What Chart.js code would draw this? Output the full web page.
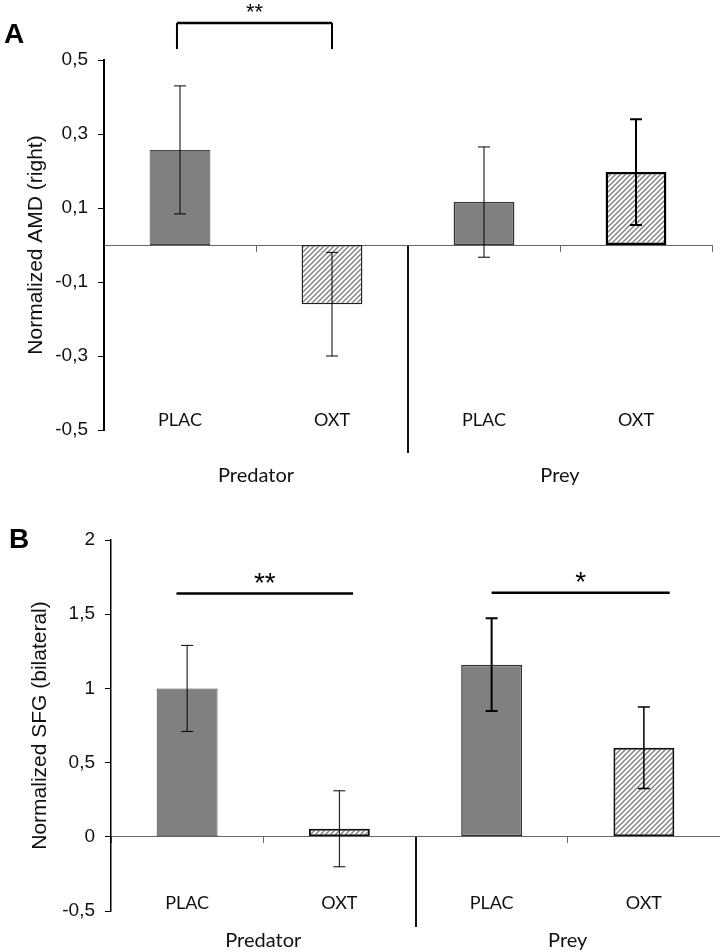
<!DOCTYPE html>
<html>
<head>
<meta charset="utf-8">
<script src="https://cdn.jsdelivr.net/npm/chart.js@4"></script>
<style>
  body { margin: 0; background: #fff; }
  .panel { position: absolute; left: 0; }
  #panelA { top: 0; }
  #panelB { top: 480px; }
</style>
</head>
<body>
<div class="panel" id="panelB"><canvas id="chartB" width="720" height="472"></canvas></div>
<div class="panel" id="panelA"><canvas id="chartA" width="720" height="500"></canvas></div>
<script>
// data
const conditions = ['PLAC', 'OXT', 'PLAC', 'OXT'];
const groups = ['Predator', 'Prey'];

const amdMeans = [0.257, -0.16, 0.116, 0.197];
const amdErrors = [0.173, 0.14, 0.149, 0.143];
const amdTicks = [-0.5, -0.3, -0.1, 0.1, 0.3, 0.5];

const sfgMeans = [1.0, 0.054, 1.16, 0.60];
const sfgErrors = [0.29, 0.256, 0.313, 0.275];
const sfgTicks = [-0.5, 0, 0.5, 1, 1.5, 2];

// significance marks: category span, height in data units
const amdSig = [{ from: -0.02, to: 1, y: 0.6, leg: 0.53, text: '**', textY: 0.645, size: 22 }];
const sfgSig = [
  { from: -0.07, to: 1.09, y: 1.64, text: '**', textY: 1.76, size: 28 },
  { from: 2.0, to: 3.17, y: 1.645, text: '*', textY: 1.765, size: 28 }
];

const sans = '"Liberation Sans", Arial, sans-serif';

function hatchPattern() {
  const c = document.createElement('canvas');
  c.width = 5; c.height = 5;
  const g = c.getContext('2d');
  g.fillStyle = '#fff';
  g.fillRect(0, 0, 5, 5);
  g.strokeStyle = '#858585';
  g.lineWidth = 1.5;
  g.beginPath();
  g.moveTo(-1, 6); g.lineTo(6, -1);
  g.moveTo(-1, 1); g.lineTo(1, -1);
  g.moveTo(4, 6); g.lineTo(6, 4);
  g.stroke();
  return g.createPattern(c, 'repeat');
}
const hatch = hatchPattern();
const grey = '#808080';

function overlay(cfg) {
  return {
    id: 'overlay',
    afterDatasetsDraw(chart) {
      const { ctx, scales: { y } } = chart;
      const meta = chart.getDatasetMeta(0);
      ctx.save();
      ctx.strokeStyle = '#000';
      meta.data.forEach((bar, i) => {
        const v = cfg.means[i], e = cfg.errors[i];
        const t = y.getPixelForValue(v + e), b = y.getPixelForValue(v - e);
        ctx.lineWidth = cfg.errWidth[i];
        ctx.beginPath();
        ctx.moveTo(bar.x, t); ctx.lineTo(bar.x, b);
        ctx.moveTo(bar.x - 6, t); ctx.lineTo(bar.x + 6, t);
        ctx.moveTo(bar.x - 6, b); ctx.lineTo(bar.x + 6, b);
        ctx.stroke();
      });
      ctx.restore();
    },
    afterDraw(chart) {
      const { ctx, scales: { x, y } } = chart;
      ctx.save();
      ctx.strokeStyle = '#000';
      ctx.fillStyle = '#000';
      cfg.sig.forEach(s => {
        const x1 = x.getPixelForValue(s.from), x2 = x.getPixelForValue(s.to);
        const yy = y.getPixelForValue(s.y);
        ctx.lineWidth = 2.5;
        ctx.beginPath();
        ctx.moveTo(x1, yy); ctx.lineTo(x2, yy);
        ctx.stroke();
        if (s.leg != null) {
          const yl = y.getPixelForValue(s.leg);
          ctx.lineWidth = 2;
          ctx.beginPath();
          ctx.moveTo(x1, yy); ctx.lineTo(x1, yl);
          ctx.moveTo(x2, yy); ctx.lineTo(x2, yl);
          ctx.stroke();
        }
        ctx.font = s.size + 'px ' + sans;
        ctx.textAlign = 'center';
        ctx.textBaseline = 'alphabetic';
        ctx.fillText(s.text, (x1 + x2) / 2, y.getPixelForValue(s.textY) + s.size * 0.58);
      });
      ctx.font = 'bold 28px ' + sans;
      ctx.textAlign = 'left';
      ctx.fillText(cfg.letter, cfg.letterAt[0], cfg.letterAt[1]);
      ctx.restore();
    }
  };
}

function makeChart(id, p) {
  return new Chart(document.getElementById(id), {
    type: 'bar',
    data: {
      labels: conditions,
      datasets: [{
        xAxisID: 'x',
        data: p.means,
        backgroundColor: [grey, hatch, grey, hatch],
        borderColor: p.borderColor,
        borderWidth: p.borderWidth,
        borderSkipped: false,
        categoryPercentage: 1,
        barPercentage: 0.4
      }]
    },
    options: {
      responsive: false,
      animation: false,
      layout: { padding: p.padding },
      plugins: { legend: { display: false }, tooltip: { enabled: false } },
      scales: {
        // condition labels, sitting low in the plot
        x: {
          axis: 'x',
          position: { y: p.labelAt },
          offset: true,
          grid: { display: false },
          border: { display: false },
          ticks: { padding: 0, color: '#111', maxRotation: 0, autoSkip: false,
                   font: { family: 'Lato', size: 18 } }
        },
        // zero line with category tick marks
        x0: {
          type: 'category',
          axis: 'x',
          labels: conditions,
          position: { y: 0 },
          offset: true,
          grid: { offset: true, drawOnChartArea: false, tickLength: 6, color: '#666', lineWidth: 1 },
          border: { display: true, color: '#666', width: 1 },
          ticks: { display: false }
        },
        // group labels with the long separator
        xg: {
          type: 'category',
          axis: 'x',
          labels: groups,
          position: { y: 0 },
          offset: true,
          grid: {
            offset: true, drawOnChartArea: false, tickLength: p.sepLen, lineWidth: 2,
            color: c => c.index === 1 ? '#111' : 'rgba(0,0,0,0)'
          },
          border: { display: false },
          ticks: { padding: p.groupPad, color: '#111', maxRotation: 0, autoSkip: false,
                   font: { family: 'Lato', size: 20 } }
        },
        y: {
          min: p.ticks[0],
          max: p.ticks[p.ticks.length - 1],
          afterBuildTicks: s => { s.ticks = p.ticks.map(v => ({ value: v })); },
          afterFit: s => { s.width = p.axisLeft; },
          grid: { drawOnChartArea: false, tickLength: 6, color: '#000' },
          border: { color: '#000', width: p.axisWidth },
          ticks: {
            padding: 10, color: '#111', font: { family: 'Liberation Sans', size: 19 },
            callback: v => String(v).replace('.', ',')
          },
          title: {
            display: true, text: p.title, color: '#111',
            font: { family: 'Liberation Sans', size: 21 },
            padding: { top: p.titlePad, bottom: 0 }
          }
        }
      }
    },
    plugins: [overlay(p)]
  });
}

makeChart('chartA', {
  means: amdMeans, errors: amdErrors, ticks: amdTicks, sig: amdSig,
  title: 'Normalized AMD (right)',
  borderColor: ['#444', '#222', '#333', '#000'],
  borderWidth: [1, 1.5, 1.5, 2.5],
  errWidth: [1, 1, 1, 2],
  padding: { top: 60, bottom: 70, left: 0, right: 8 },
  axisLeft: 104, axisWidth: 2, titlePad: 24,
  labelAt: -0.424, sepLen: 208, groupPad: 11,
  letter: 'A', letterAt: [4, 43]
});

makeChart('chartB', {
  means: sfgMeans, errors: sfgErrors, ticks: sfgTicks, sig: sfgSig,
  title: 'Normalized SFG (bilateral)',
  borderColor: ['#444', '#111', '#333', '#111'],
  borderWidth: [1, 2, 1.5, 2],
  errWidth: [1, 1, 2, 1.5],
  padding: { top: 60, bottom: 41, left: 0, right: 0 },
  axisLeft: 111, axisWidth: 1.5, titlePad: 28,
  labelAt: -0.323, sepLen: 90, groupPad: 2,
  letter: 'B', letterAt: [9, 68]
});
</script>
</body>
</html>
